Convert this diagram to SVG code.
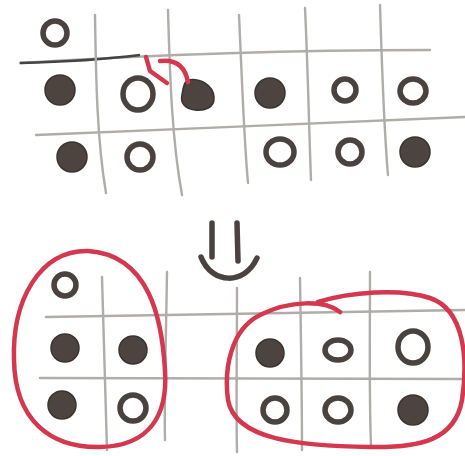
<svg xmlns="http://www.w3.org/2000/svg" width="465" height="456" viewBox="0 0 465 456">
<style>
.grid{stroke:#b0aca8;stroke-width:2.4;fill:none;stroke-linecap:round}
.dark{stroke:#444;stroke-width:2.5;fill:none}
.f{fill:#4d4440;stroke:#3a3431;stroke-width:1.5}
.o{fill:#fff;stroke:#4a423e;stroke-width:5.5}
.red{stroke:#d3384f;stroke-width:4.5;fill:none;stroke-linecap:round;stroke-linejoin:round}
.arrow{stroke:#4a423e;stroke-width:5.5;fill:none;stroke-linecap:round}
</style>
<rect width="465" height="456" fill="#fff"/>
<g id="grid-top">
<path class="grid" d="M20,63 C150,55 300,50 430,50"/>
<path class="dark" d="M20,63 C60,62 100,60 140,55"/>
<path class="grid" d="M36,135 C180,130 320,122 465,117"/>
<path class="grid" d="M95,15 C96,80 97,140 106,193"/>
<path class="grid" d="M168,10 C170,80 172,140 182,195"/>
<path class="grid" d="M239,15 C242,80 244,140 248,183"/>
<path class="grid" d="M305,8 C308,70 309,130 311,180"/>
<path class="grid" d="M380,5 C382,70 384,130 388,175"/>
</g>
<g id="grid-bottom">
<path class="grid" d="M46,317 C180,315 320,312 465,310"/>
<path class="grid" d="M40,378 C180,378 320,380 465,379"/>
<path class="grid" d="M102,277 C104,340 106,400 107,450"/>
<path class="grid" d="M167,272 C166,340 164,400 165,440"/>
<path class="grid" d="M237,288 C237,350 236,410 237,452"/>
<path class="grid" d="M300,278 C301,340 302,400 302,450"/>
<path class="grid" d="M370,272 C370,340 369,400 371,445"/>
</g>
<g id="top-row0">
<circle class="o" cx="55" cy="33" r="12"/>
</g>
<g id="top-row1">
<circle class="f" cx="60" cy="90" r="15"/>
<ellipse class="o" cx="138" cy="94" rx="15" ry="16"/>
<path class="f" d="M188,80 C200,78 213,85 214,97 C215,108 204,111 195,110 C185,109 180,103 182,95 C183,88 184,82 188,80 Z"/>
<circle class="f" cx="270" cy="93" r="15"/>
<circle class="o" cx="345" cy="90" r="11"/>
<ellipse class="o" cx="413" cy="91" rx="13" ry="12"/>
</g>
<g id="top-row2">
<circle class="f" cx="72" cy="157" r="15"/>
<circle class="o" cx="140" cy="157" r="13"/>
<ellipse class="o" cx="280" cy="152" rx="14" ry="13"/>
<circle class="o" cx="350" cy="152" r="12"/>
<circle class="f" cx="415" cy="152" r="15"/>
</g>
<g id="swap-arrow">
<path class="red" d="M188,82 C185,66 176,59 160,61"/>
<path class="red" d="M146,57 L150,71 L167,83"/>
</g>
<g id="down-arrow">
<path class="arrow" d="M212,223 L212,257"/>
<path class="arrow" d="M237,223 L238,261"/>
<path class="arrow" d="M201,257 C212,285 245,285 257,258"/>
</g>
<g id="bottom-left">
<circle class="o" cx="65" cy="285" r="11"/>
<circle class="f" cx="65" cy="348" r="14"/>
<circle class="f" cx="133" cy="350" r="14"/>
<circle class="f" cx="62" cy="405" r="14"/>
<circle class="o" cx="133" cy="408" r="13"/>
</g>
<g id="bottom-right">
<circle class="f" cx="270" cy="353" r="14"/>
<ellipse class="o" cx="338" cy="350" rx="13" ry="10"/>
<ellipse class="o" cx="413" cy="347" rx="15" ry="16"/>
<circle class="o" cx="275" cy="410" r="12"/>
<ellipse class="o" cx="338" cy="410" rx="13" ry="12"/>
<circle class="f" cx="413" cy="410" r="15"/>
</g>
<g id="groups">
<path class="red" d="M88,251 C40,250 12,300 14,360 C15,420 50,448 100,447 C150,446 168,415 165,370 C162,320 150,255 88,251"/>
<path class="red" d="M340,312 C325,300 290,300 260,315 C230,330 224,370 228,400 C235,440 300,446 370,447 C420,448 455,440 462,400 C468,360 465,310 430,298 C400,288 350,292 318,302"/>
</g>
</svg>
